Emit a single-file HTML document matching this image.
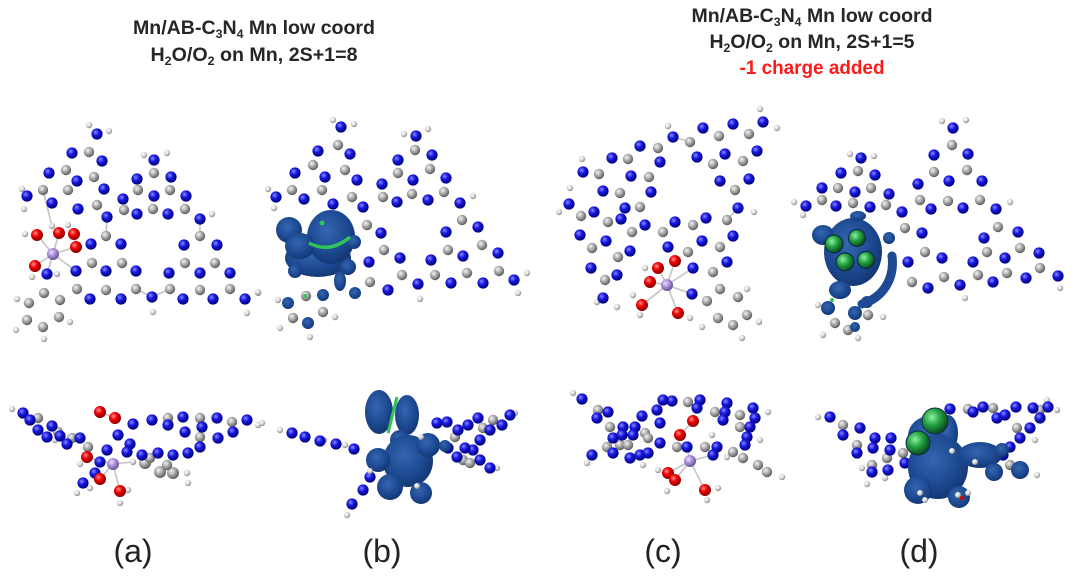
<!DOCTYPE html>
<html><head><meta charset="utf-8">
<style>
html,body{margin:0;padding:0;background:#fff;}
body{width:1080px;height:579px;overflow:hidden;}
svg{display:block;}
.n{fill:url(#gN)} .c{fill:url(#gC)} .h{fill:url(#gH)} .o{fill:url(#gO)} .m{fill:url(#gM)} .b{fill:url(#gB)}
.t{font-family:"Liberation Sans",Arial,sans-serif;}
</style></head><body>
<svg width="1080" height="579" viewBox="0 0 1080 579" xmlns="http://www.w3.org/2000/svg">
<defs>
<radialGradient id="gN" cx="38%" cy="35%" r="65%"><stop offset="0" stop-color="#8a8aff"/><stop offset="0.45" stop-color="#1818e0"/><stop offset="1" stop-color="#00007a"/></radialGradient>
<radialGradient id="gC" cx="38%" cy="35%" r="65%"><stop offset="0" stop-color="#f4f4f4"/><stop offset="0.5" stop-color="#a8a8a8"/><stop offset="1" stop-color="#5e5e5e"/></radialGradient>
<radialGradient id="gH" cx="38%" cy="35%" r="65%"><stop offset="0" stop-color="#ffffff"/><stop offset="0.5" stop-color="#dcdcdc"/><stop offset="1" stop-color="#8c8c8c"/></radialGradient>
<radialGradient id="gO" cx="38%" cy="35%" r="65%"><stop offset="0" stop-color="#ff9090"/><stop offset="0.45" stop-color="#ee0000"/><stop offset="1" stop-color="#880000"/></radialGradient>
<radialGradient id="gM" cx="38%" cy="35%" r="65%"><stop offset="0" stop-color="#eee0ff"/><stop offset="0.5" stop-color="#a88ed8"/><stop offset="1" stop-color="#6a5090"/></radialGradient>
<radialGradient id="gB" cx="42%" cy="38%" r="72%"><stop offset="0" stop-color="#3566b0"/><stop offset="0.55" stop-color="#1d4a92"/><stop offset="1" stop-color="#112f68"/></radialGradient>
<radialGradient id="gG" cx="38%" cy="35%" r="65%"><stop offset="0" stop-color="#8ff0a0"/><stop offset="0.5" stop-color="#22a040"/><stop offset="1" stop-color="#0c4a20"/></radialGradient>
</defs>

<!-- ===== Titles ===== -->
<g class="t" fill="#262626" font-weight="bold" font-size="19" text-anchor="middle">
<text x="254" y="34" textLength="242" lengthAdjust="spacingAndGlyphs">Mn/AB-C<tspan font-size="12" dy="4">3</tspan><tspan dy="-4">N</tspan><tspan font-size="12" dy="4">4</tspan><tspan dy="-4"> Mn low coord</tspan></text>
<text x="254" y="61" textLength="207" lengthAdjust="spacingAndGlyphs">H<tspan font-size="12" dy="4">2</tspan><tspan dy="-4">O/O</tspan><tspan font-size="12" dy="4">2</tspan><tspan dy="-4"> on Mn, 2S+1=8</tspan></text>
<text x="812" y="22" textLength="241" lengthAdjust="spacingAndGlyphs">Mn/AB-C<tspan font-size="12" dy="4">3</tspan><tspan dy="-4">N</tspan><tspan font-size="12" dy="4">4</tspan><tspan dy="-4"> Mn low coord</tspan></text>
<text x="812" y="48" textLength="205" lengthAdjust="spacingAndGlyphs">H<tspan font-size="12" dy="4">2</tspan><tspan dy="-4">O/O</tspan><tspan font-size="12" dy="4">2</tspan><tspan dy="-4"> on Mn, 2S+1=5</tspan></text>
<text x="812" y="74" fill="#ff1a1a" textLength="145" lengthAdjust="spacingAndGlyphs">-1 charge added</text>
</g>
<g class="t" fill="#222" font-size="32" text-anchor="middle">
<text x="133" y="562">(a)</text>
<text x="382" y="562">(b)</text>
<text x="663" y="562">(c)</text>
<text x="919" y="562">(d)</text>
</g>

<!-- ===== Panel (a) top ===== -->
<g stroke="#c4c4c4" stroke-width="1.6">
<line x1="53" y1="254" x2="37" y2="235"/><line x1="53" y1="254" x2="59" y2="233"/><line x1="53" y1="254" x2="76" y2="247"/><line x1="53" y1="254" x2="35" y2="266"/><line x1="53" y1="254" x2="47" y2="274"/><line x1="53" y1="254" x2="76" y2="271"/><line x1="74" y1="234" x2="76" y2="247"/>
<line x1="43" y1="190" x2="52" y2="226"/><line x1="107" y1="217" x2="106" y2="236"/><line x1="200" y1="219" x2="200" y2="236"/><line x1="152" y1="297" x2="170" y2="289"/><line x1="136" y1="289" x2="152" y2="297"/>
</g>
<g>
<circle class="h" cx="89" cy="125" r="3.2"/><circle class="h" cx="109" cy="131" r="3.2"/><circle class="h" cx="22" cy="189" r="3.2"/><circle class="h" cx="24" cy="209" r="3.2"/><circle class="h" cx="144" cy="155" r="3.2"/><circle class="h" cx="167" cy="153" r="3.2"/><circle class="h" cx="212" cy="214" r="3.2"/><circle class="h" cx="153" cy="312" r="3.2"/><circle class="h" cx="258" cy="293" r="3.2"/><circle class="h" cx="247" cy="313" r="3.2"/><circle class="h" cx="25" cy="234" r="3.2"/><circle class="h" cx="52" cy="226" r="3.2"/><circle class="h" cx="68" cy="225" r="3.2"/><circle class="h" cx="32" cy="277" r="3.2"/><circle class="h" cx="57" cy="274" r="3.2"/><circle class="h" cx="70" cy="322" r="3.2"/><circle class="h" cx="17" cy="299" r="3.2"/><circle class="h" cx="16" cy="330" r="3.2"/><circle class="h" cx="44" cy="339" r="3.2"/>
<circle class="c" cx="89" cy="152" r="5.2"/><circle class="c" cx="66" cy="170" r="5.2"/><circle class="c" cx="94" cy="177" r="5.2"/><circle class="c" cx="43" cy="190" r="5.2"/><circle class="c" cx="68" cy="190" r="5.2"/><circle class="c" cx="97" cy="205" r="5.2"/><circle class="c" cx="154" cy="173" r="5.2"/><circle class="c" cx="138" cy="190" r="5.2"/><circle class="c" cx="170" cy="190" r="5.2"/><circle class="c" cx="124" cy="210" r="5.2"/><circle class="c" cx="153" cy="209" r="5.2"/><circle class="c" cx="185" cy="209" r="5.2"/><circle class="c" cx="106" cy="236" r="5.2"/><circle class="c" cx="92" cy="263" r="5.2"/><circle class="c" cx="122" cy="263" r="5.2"/><circle class="c" cx="77" cy="289" r="5.2"/><circle class="c" cx="106" cy="290" r="5.2"/><circle class="c" cx="136" cy="289" r="5.2"/><circle class="c" cx="200" cy="236" r="5.2"/><circle class="c" cx="185" cy="263" r="5.2"/><circle class="c" cx="215" cy="263" r="5.2"/><circle class="c" cx="170" cy="289" r="5.2"/><circle class="c" cx="200" cy="290" r="5.2"/><circle class="c" cx="230" cy="289" r="5.2"/><circle class="c" cx="44" cy="293" r="5.2"/><circle class="c" cx="60" cy="300" r="5.2"/><circle class="c" cx="29" cy="303" r="5.2"/><circle class="c" cx="59" cy="317" r="5.2"/><circle class="c" cx="27" cy="320" r="5.2"/><circle class="c" cx="43" cy="327" r="5.2"/>
<circle class="n" cx="97" cy="134" r="5.6"/><circle class="n" cx="72" cy="153" r="5.6"/><circle class="n" cx="102" cy="161" r="5.6"/><circle class="n" cx="49" cy="173" r="5.6"/><circle class="n" cx="77" cy="181" r="5.6"/><circle class="n" cx="104" cy="189" r="5.6"/><circle class="n" cx="27" cy="196" r="5.6"/><circle class="n" cx="52" cy="203" r="5.6"/><circle class="n" cx="78" cy="209" r="5.6"/><circle class="n" cx="107" cy="217" r="5.6"/><circle class="n" cx="154" cy="160" r="5.6"/><circle class="n" cx="137" cy="179" r="5.6"/><circle class="n" cx="171" cy="177" r="5.6"/><circle class="n" cx="123" cy="199" r="5.6"/><circle class="n" cx="154" cy="196" r="5.6"/><circle class="n" cx="186" cy="196" r="5.6"/><circle class="n" cx="137" cy="214" r="5.6"/><circle class="n" cx="168" cy="214" r="5.6"/><circle class="n" cx="200" cy="219" r="5.6"/><circle class="n" cx="91" cy="244" r="5.6"/><circle class="n" cx="121" cy="244" r="5.6"/><circle class="n" cx="76" cy="271" r="5.6"/><circle class="n" cx="106" cy="271" r="5.6"/><circle class="n" cx="136" cy="271" r="5.6"/><circle class="n" cx="90" cy="299" r="5.6"/><circle class="n" cx="121" cy="299" r="5.6"/><circle class="n" cx="152" cy="297" r="5.6"/><circle class="n" cx="184" cy="245" r="5.6"/><circle class="n" cx="217" cy="245" r="5.6"/><circle class="n" cx="169" cy="273" r="5.6"/><circle class="n" cx="200" cy="273" r="5.6"/><circle class="n" cx="230" cy="273" r="5.6"/><circle class="n" cx="183" cy="299" r="5.6"/><circle class="n" cx="213" cy="299" r="5.6"/><circle class="n" cx="245" cy="299" r="5.6"/><circle class="n" cx="47" cy="274" r="5.6"/>
<circle class="o" cx="37" cy="235" r="6"/><circle class="o" cx="59" cy="233" r="6"/><circle class="o" cx="74" cy="234" r="6"/><circle class="o" cx="76" cy="247" r="6"/><circle class="o" cx="35" cy="266" r="6"/>
<circle class="m" cx="53" cy="254" r="6"/>
</g>

<!-- ===== Panel (b) top ===== -->
<g>
<circle class="h" cx="333" cy="120" r="3.2"/><circle class="h" cx="354" cy="124" r="3.2"/><circle class="h" cx="268" cy="189" r="3.2"/><circle class="h" cx="274" cy="208" r="3.2"/><circle class="h" cx="404" cy="134" r="3.2"/><circle class="h" cx="428" cy="129" r="3.2"/><circle class="h" cx="473" cy="196" r="3.2"/><circle class="h" cx="420" cy="299" r="3.2"/><circle class="h" cx="527" cy="273" r="3.2"/><circle class="h" cx="518" cy="293" r="3.2"/><circle class="h" cx="258" cy="292" r="3.2"/><circle class="h" cx="278" cy="300" r="3.2"/><circle class="h" cx="335" cy="317" r="3.2"/><circle class="h" cx="280" cy="328" r="3.2"/><circle class="h" cx="310" cy="337" r="3.2"/>
<circle class="c" cx="338" cy="145" r="5.2"/><circle class="c" cx="313" cy="165" r="5.2"/><circle class="c" cx="345" cy="170" r="5.2"/><circle class="c" cx="292" cy="190" r="5.2"/><circle class="c" cx="322" cy="190" r="5.2"/><circle class="c" cx="352" cy="197" r="5.2"/><circle class="c" cx="415" cy="150" r="5.2"/><circle class="c" cx="398" cy="173" r="5.2"/><circle class="c" cx="430" cy="169" r="5.2"/><circle class="c" cx="383" cy="197" r="5.2"/><circle class="c" cx="412" cy="194" r="5.2"/><circle class="c" cx="444" cy="192" r="5.2"/><circle class="c" cx="367" cy="225" r="5.2"/><circle class="c" cx="384" cy="250" r="5.2"/><circle class="c" cx="370" cy="282" r="5.2"/><circle class="c" cx="402" cy="275" r="5.2"/><circle class="c" cx="462" cy="220" r="5.2"/><circle class="c" cx="448" cy="250" r="5.2"/><circle class="c" cx="482" cy="245" r="5.2"/><circle class="c" cx="435" cy="275" r="5.2"/><circle class="c" cx="467" cy="273" r="5.2"/><circle class="c" cx="499" cy="271" r="5.2"/><circle class="c" cx="293" cy="318" r="5.2"/><circle class="c" cx="323" cy="312" r="5.2"/><circle class="c" cx="306" cy="296" r="5.2"/>
<circle class="n" cx="341" cy="127" r="5.6"/><circle class="n" cx="318" cy="151" r="5.6"/><circle class="n" cx="350" cy="154" r="5.6"/><circle class="n" cx="295" cy="173" r="5.6"/><circle class="n" cx="325" cy="177" r="5.6"/><circle class="n" cx="357" cy="180" r="5.6"/><circle class="n" cx="276" cy="197" r="5.6"/><circle class="n" cx="304" cy="199" r="5.6"/><circle class="n" cx="333" cy="204" r="5.6"/><circle class="n" cx="363" cy="207" r="5.6"/><circle class="n" cx="416" cy="136" r="5.6"/><circle class="n" cx="398" cy="160" r="5.6"/><circle class="n" cx="432" cy="155" r="5.6"/><circle class="n" cx="382" cy="184" r="5.6"/><circle class="n" cx="413" cy="180" r="5.6"/><circle class="n" cx="446" cy="178" r="5.6"/><circle class="n" cx="397" cy="202" r="5.6"/><circle class="n" cx="428" cy="200" r="5.6"/><circle class="n" cx="460" cy="203" r="5.6"/><circle class="n" cx="381" cy="233" r="5.6"/><circle class="n" cx="369" cy="262" r="5.6"/><circle class="n" cx="400" cy="258" r="5.6"/><circle class="n" cx="388" cy="290" r="5.6"/><circle class="n" cx="418" cy="284" r="5.6"/><circle class="n" cx="446" cy="232" r="5.6"/><circle class="n" cx="478" cy="227" r="5.6"/><circle class="n" cx="431" cy="260" r="5.6"/><circle class="n" cx="463" cy="256" r="5.6"/><circle class="n" cx="498" cy="253" r="5.6"/><circle class="n" cx="451" cy="283" r="5.6"/><circle class="n" cx="483" cy="283" r="5.6"/><circle class="n" cx="514" cy="280" r="5.6"/>
</g>
<g class="b">
<ellipse cx="318" cy="258" rx="33" ry="19"/>
<ellipse cx="331" cy="237" rx="24" ry="27"/>
<ellipse cx="289" cy="230" rx="13" ry="13"/>
<ellipse cx="300" cy="246" rx="15" ry="13"/>
<circle cx="354" cy="242" r="7"/>
<circle cx="348" cy="267" r="8"/>
<circle cx="295" cy="271" r="7"/>
<ellipse cx="340" cy="281" rx="6" ry="10"/>
<circle cx="355" cy="293" r="6"/>
<circle cx="288" cy="303" r="6"/>
<circle cx="323" cy="295" r="6"/>
<circle cx="308" cy="323" r="6"/>
</g>
<path d="M309,243 Q330,254 350,237" stroke="#2fc456" stroke-width="3.5" fill="none"/>
<circle cx="322" cy="223" r="2.5" fill="#2fc456"/>
<circle cx="305" cy="296" r="2" fill="#2fc456"/>

<!-- ===== Panel (c) top ===== -->
<g stroke="#c4c4c4" stroke-width="1.6">
<line x1="667" y1="285" x2="675" y2="261"/><line x1="667" y1="285" x2="658" y2="268"/><line x1="667" y1="285" x2="650" y2="282"/><line x1="667" y1="285" x2="642" y2="305"/><line x1="667" y1="285" x2="678" y2="313"/><line x1="667" y1="285" x2="692" y2="294"/><line x1="667" y1="285" x2="693" y2="268"/>
<line x1="738" y1="208" x2="727" y2="220"/><line x1="673" y1="137" x2="690" y2="142"/>
</g>
<g>
<circle class="h" cx="760" cy="109" r="3.2"/><circle class="h" cx="777" cy="128" r="3.2"/><circle class="h" cx="668" cy="126" r="3.2"/><circle class="h" cx="754" cy="212" r="3.2"/><circle class="h" cx="582" cy="159" r="3.2"/><circle class="h" cx="570" cy="188" r="3.2"/><circle class="h" cx="559" cy="212" r="3.2"/><circle class="h" cx="597" cy="302" r="3.2"/><circle class="h" cx="617" cy="307" r="3.2"/><circle class="h" cx="747" cy="289" r="3.2"/><circle class="h" cx="759" cy="322" r="3.2"/><circle class="h" cx="742" cy="338" r="3.2"/><circle class="h" cx="702" cy="327" r="3.2"/><circle class="h" cx="645" cy="268" r="3.2"/><circle class="h" cx="633" cy="295" r="3.2"/><circle class="h" cx="640" cy="315" r="3.2"/><circle class="h" cx="690" cy="318" r="3.2"/>
<circle class="c" cx="749" cy="134" r="5.2"/><circle class="c" cx="719" cy="136" r="5.2"/><circle class="c" cx="743" cy="161" r="5.2"/><circle class="c" cx="713" cy="164" r="5.2"/><circle class="c" cx="735" cy="190" r="5.2"/><circle class="c" cx="658" cy="148" r="5.2"/><circle class="c" cx="690" cy="142" r="5.2"/><circle class="c" cx="628" cy="159" r="5.2"/><circle class="c" cx="649" cy="177" r="5.2"/><circle class="c" cx="599" cy="174" r="5.2"/><circle class="c" cx="620" cy="193" r="5.2"/><circle class="c" cx="640" cy="207" r="5.2"/><circle class="c" cx="581" cy="216" r="5.2"/><circle class="c" cx="608" cy="222" r="5.2"/><circle class="c" cx="632" cy="232" r="5.2"/><circle class="c" cx="592" cy="248" r="5.2"/><circle class="c" cx="618" cy="257" r="5.2"/><circle class="c" cx="605" cy="280" r="5.2"/><circle class="c" cx="663" cy="232" r="5.2"/><circle class="c" cx="693" cy="225" r="5.2"/><circle class="c" cx="727" cy="220" r="5.2"/><circle class="c" cx="720" cy="247" r="5.2"/><circle class="c" cx="688" cy="252" r="5.2"/><circle class="c" cx="713" cy="272" r="5.2"/><circle class="c" cx="707" cy="301" r="5.2"/><circle class="c" cx="720" cy="289" r="5.2"/><circle class="c" cx="738" cy="297" r="5.2"/><circle class="c" cx="718" cy="318" r="5.2"/><circle class="c" cx="733" cy="325" r="5.2"/><circle class="c" cx="747" cy="315" r="5.2"/>
<circle class="n" cx="763" cy="122" r="5.6"/><circle class="n" cx="733" cy="124" r="5.6"/><circle class="n" cx="703" cy="128" r="5.6"/><circle class="n" cx="757" cy="151" r="5.6"/><circle class="n" cx="725" cy="154" r="5.6"/><circle class="n" cx="697" cy="157" r="5.6"/><circle class="n" cx="749" cy="179" r="5.6"/><circle class="n" cx="720" cy="181" r="5.6"/><circle class="n" cx="738" cy="208" r="5.6"/><circle class="n" cx="673" cy="137" r="5.6"/><circle class="n" cx="640" cy="146" r="5.6"/><circle class="n" cx="660" cy="162" r="5.6"/><circle class="n" cx="612" cy="158" r="5.6"/><circle class="n" cx="631" cy="176" r="5.6"/><circle class="n" cx="651" cy="192" r="5.6"/><circle class="n" cx="583" cy="172" r="5.6"/><circle class="n" cx="603" cy="191" r="5.6"/><circle class="n" cx="625" cy="208" r="5.6"/><circle class="n" cx="569" cy="204" r="5.6"/><circle class="n" cx="594" cy="212" r="5.6"/><circle class="n" cx="621" cy="219" r="5.6"/><circle class="n" cx="580" cy="235" r="5.6"/><circle class="n" cx="606" cy="241" r="5.6"/><circle class="n" cx="630" cy="251" r="5.6"/><circle class="n" cx="591" cy="268" r="5.6"/><circle class="n" cx="617" cy="275" r="5.6"/><circle class="n" cx="603" cy="298" r="5.6"/><circle class="n" cx="645" cy="225" r="5.6"/><circle class="n" cx="675" cy="222" r="5.6"/><circle class="n" cx="706" cy="218" r="5.6"/><circle class="n" cx="733" cy="236" r="5.6"/><circle class="n" cx="702" cy="241" r="5.6"/><circle class="n" cx="668" cy="247" r="5.6"/><circle class="n" cx="727" cy="262" r="5.6"/><circle class="n" cx="693" cy="268" r="5.6"/><circle class="n" cx="692" cy="294" r="5.6"/>
<circle class="o" cx="675" cy="261" r="6"/><circle class="o" cx="658" cy="268" r="6"/><circle class="o" cx="650" cy="282" r="6"/><circle class="o" cx="642" cy="305" r="6"/><circle class="o" cx="678" cy="313" r="6"/>
<circle class="m" cx="667" cy="285" r="6"/>
</g>

<!-- ===== Panel (d) top ===== -->
<g>
<circle class="h" cx="942" cy="121" r="3.2"/><circle class="h" cx="966" cy="120" r="3.2"/><circle class="h" cx="1010" cy="202" r="3.2"/><circle class="h" cx="1060" cy="288" r="3.2"/><circle class="h" cx="850" cy="154" r="3.2"/><circle class="h" cx="874" cy="156" r="3.2"/><circle class="h" cx="794" cy="202" r="3.2"/><circle class="h" cx="803" cy="215" r="3.2"/><circle class="h" cx="965" cy="298" r="3.2"/><circle class="h" cx="818" cy="305" r="3.2"/><circle class="h" cx="883" cy="317" r="3.2"/><circle class="h" cx="823" cy="335" r="3.2"/><circle class="h" cx="858" cy="338" r="3.2"/>
<circle class="c" cx="952" cy="145" r="5.2"/><circle class="c" cx="934" cy="172" r="5.2"/><circle class="c" cx="967" cy="170" r="5.2"/><circle class="c" cx="920" cy="200" r="5.2"/><circle class="c" cx="948" cy="201" r="5.2"/><circle class="c" cx="980" cy="200" r="5.2"/><circle class="c" cx="998" cy="227" r="5.2"/><circle class="c" cx="987" cy="252" r="5.2"/><circle class="c" cx="1020" cy="248" r="5.2"/><circle class="c" cx="978" cy="275" r="5.2"/><circle class="c" cx="1007" cy="273" r="5.2"/><circle class="c" cx="1040" cy="268" r="5.2"/><circle class="c" cx="858" cy="171" r="5.2"/><circle class="c" cx="838" cy="188" r="5.2"/><circle class="c" cx="871" cy="188" r="5.2"/><circle class="c" cx="822" cy="200" r="5.2"/><circle class="c" cx="853" cy="203" r="5.2"/><circle class="c" cx="886" cy="205" r="5.2"/><circle class="c" cx="905" cy="228" r="5.2"/><circle class="c" cx="925" cy="252" r="5.2"/><circle class="c" cx="912" cy="282" r="5.2"/><circle class="c" cx="944" cy="277" r="5.2"/><circle class="c" cx="868" cy="315" r="5.2"/><circle class="c" cx="835" cy="323" r="5.2"/><circle class="c" cx="848" cy="330" r="5.2"/>
<circle class="n" cx="953" cy="128" r="5.6"/><circle class="n" cx="934" cy="155" r="5.6"/><circle class="n" cx="968" cy="154" r="5.6"/><circle class="n" cx="918" cy="184" r="5.6"/><circle class="n" cx="949" cy="181" r="5.6"/><circle class="n" cx="982" cy="181" r="5.6"/><circle class="n" cx="931" cy="209" r="5.6"/><circle class="n" cx="963" cy="208" r="5.6"/><circle class="n" cx="996" cy="209" r="5.6"/><circle class="n" cx="984" cy="238" r="5.6"/><circle class="n" cx="1018" cy="232" r="5.6"/><circle class="n" cx="973" cy="262" r="5.6"/><circle class="n" cx="1005" cy="258" r="5.6"/><circle class="n" cx="1039" cy="253" r="5.6"/><circle class="n" cx="993" cy="282" r="5.6"/><circle class="n" cx="1026" cy="278" r="5.6"/><circle class="n" cx="1058" cy="276" r="5.6"/><circle class="n" cx="861" cy="158" r="5.6"/><circle class="n" cx="841" cy="173" r="5.6"/><circle class="n" cx="875" cy="175" r="5.6"/><circle class="n" cx="822" cy="188" r="5.6"/><circle class="n" cx="855" cy="192" r="5.6"/><circle class="n" cx="889" cy="194" r="5.6"/><circle class="n" cx="806" cy="206" r="5.6"/><circle class="n" cx="836" cy="206" r="5.6"/><circle class="n" cx="870" cy="207" r="5.6"/><circle class="n" cx="902" cy="212" r="5.6"/><circle class="n" cx="922" cy="233" r="5.6"/><circle class="n" cx="908" cy="262" r="5.6"/><circle class="n" cx="942" cy="258" r="5.6"/><circle class="n" cx="928" cy="288" r="5.6"/><circle class="n" cx="960" cy="285" r="5.6"/>
</g>
<g class="b">
<ellipse cx="853" cy="252" rx="29" ry="34"/>
<ellipse cx="823" cy="235" rx="11" ry="10"/>
<ellipse cx="858" cy="216" rx="8" ry="5"/>
<ellipse cx="840" cy="290" rx="11" ry="9"/>
<circle cx="889" cy="238" r="6"/>
<circle cx="828" cy="308" r="7"/>
<circle cx="855" cy="313" r="7"/>
<circle cx="855" cy="327" r="5"/>
<circle cx="867" cy="302" r="6"/>
</g>
<path d="M892,256 C895,280 882,298 862,304" stroke="#1d4a92" stroke-width="9" stroke-linecap="round" fill="none"/>
<g fill="url(#gG)" stroke="#0d2f4a" stroke-width="1.2">
<circle cx="834" cy="244" r="9"/>
<circle cx="857" cy="238" r="8.5"/>
<circle cx="845" cy="262" r="9"/>
<circle cx="866" cy="260" r="8.5"/>
</g>
<circle cx="832" cy="300" r="2" fill="#2fc456"/>

<!-- ===== Panel (a) bottom ===== -->
<g stroke="#c4c4c4" stroke-width="1.6">
<line x1="113" y1="464" x2="87" y2="457"/><line x1="113" y1="464" x2="100" y2="479"/><line x1="113" y1="464" x2="120" y2="491"/><line x1="113" y1="464" x2="133" y2="462"/><line x1="100" y1="412" x2="115" y2="418"/>
</g>
<g>
<circle class="h" cx="12" cy="409" r="3.2"/><circle class="h" cx="258" cy="425" r="3.2"/><circle class="h" cx="55" cy="440" r="3.2"/><circle class="h" cx="187" cy="473" r="3.2"/><circle class="h" cx="188" cy="483" r="3.2"/><circle class="h" cx="80" cy="464" r="3.2"/><circle class="h" cx="77" cy="493" r="3.2"/><circle class="h" cx="90" cy="488" r="3.2"/><circle class="h" cx="120" cy="503" r="3.2"/><circle class="h" cx="128" cy="490" r="3.2"/><circle class="h" cx="133" cy="462" r="3.2"/>
<circle class="c" cx="38" cy="418" r="5.2"/><circle class="c" cx="58" cy="432" r="5.2"/><circle class="c" cx="72" cy="438" r="5.2"/><circle class="c" cx="88" cy="447" r="5.2"/><circle class="c" cx="168" cy="418" r="5.2"/><circle class="c" cx="200" cy="418" r="5.2"/><circle class="c" cx="232" cy="422" r="5.2"/><circle class="c" cx="200" cy="437" r="5.2"/><circle class="c" cx="145" cy="463" r="6"/><circle class="c" cx="160" cy="472" r="6"/><circle class="c" cx="173" cy="473" r="6"/><circle class="c" cx="150" cy="458" r="5.2"/><circle class="c" cx="167" cy="465" r="5.2"/>
<circle class="n" cx="23" cy="413" r="5.6"/><circle class="n" cx="30" cy="420" r="5.6"/><circle class="n" cx="52" cy="426" r="5.6"/><circle class="n" cx="38" cy="430" r="5.6"/><circle class="n" cx="47" cy="437" r="5.6"/><circle class="n" cx="60" cy="436" r="5.6"/><circle class="n" cx="67" cy="444" r="5.6"/><circle class="n" cx="80" cy="438" r="5.6"/><circle class="n" cx="133" cy="424" r="5.6"/><circle class="n" cx="152" cy="420" r="5.6"/><circle class="n" cx="168" cy="425" r="5.6"/><circle class="n" cx="183" cy="417" r="5.6"/><circle class="n" cx="202" cy="427" r="5.6"/><circle class="n" cx="217" cy="418" r="5.6"/><circle class="n" cx="247" cy="420" r="5.6"/><circle class="n" cx="185" cy="432" r="5.6"/><circle class="n" cx="218" cy="438" r="5.6"/><circle class="n" cx="233" cy="432" r="5.6"/><circle class="n" cx="200" cy="447" r="5.6"/><circle class="n" cx="188" cy="453" r="5.6"/><circle class="n" cx="173" cy="455" r="5.6"/><circle class="n" cx="158" cy="453" r="5.6"/><circle class="n" cx="142" cy="455" r="5.6"/><circle class="n" cx="118" cy="435" r="5.6"/><circle class="n" cx="130" cy="444" r="5.6"/><circle class="n" cx="127" cy="452" r="5.6"/><circle class="n" cx="107" cy="450" r="5.6"/><circle class="n" cx="100" cy="462" r="5.6"/><circle class="n" cx="95" cy="473" r="5.6"/><circle class="n" cx="83" cy="483" r="5.6"/>
<circle class="o" cx="100" cy="412" r="6"/><circle class="o" cx="115" cy="418" r="6"/><circle class="o" cx="87" cy="457" r="6"/><circle class="o" cx="100" cy="479" r="6"/><circle class="o" cx="120" cy="491" r="6"/>
<circle class="m" cx="113" cy="464" r="6"/>
</g>

<!-- ===== Panel (b) bottom ===== -->
<g>
<circle class="h" cx="262" cy="423" r="3.2"/><circle class="h" cx="280" cy="430" r="3.2"/><circle class="h" cx="324" cy="440" r="3.2"/><circle class="h" cx="345" cy="445" r="3.2"/><circle class="h" cx="347" cy="515" r="3.2"/><circle class="h" cx="497" cy="468" r="3.2"/><circle class="h" cx="515" cy="413" r="3.2"/>
<circle class="c" cx="493" cy="420" r="5.2"/><circle class="c" cx="483" cy="428" r="5.2"/><circle class="c" cx="463" cy="460" r="5.2"/><circle class="c" cx="470" cy="463" r="5.2"/><circle class="c" cx="455" cy="437" r="5.2"/>
<circle class="n" cx="292" cy="433" r="5.6"/><circle class="n" cx="305" cy="437" r="5.6"/><circle class="n" cx="320" cy="441" r="5.6"/><circle class="n" cx="336" cy="444" r="5.6"/><circle class="n" cx="354" cy="449" r="5.6"/><circle class="n" cx="370" cy="477" r="5.6"/><circle class="n" cx="363" cy="490" r="5.6"/><circle class="n" cx="352" cy="504" r="5.6"/><circle class="n" cx="437" cy="423" r="5.6"/><circle class="n" cx="447" cy="422" r="5.6"/><circle class="n" cx="458" cy="430" r="5.6"/><circle class="n" cx="468" cy="425" r="5.6"/><circle class="n" cx="478" cy="418" r="5.6"/><circle class="n" cx="490" cy="430" r="5.6"/><circle class="n" cx="502" cy="425" r="5.6"/><circle class="n" cx="510" cy="415" r="5.6"/><circle class="n" cx="480" cy="440" r="5.6"/><circle class="n" cx="473" cy="450" r="5.6"/><circle class="n" cx="465" cy="448" r="5.6"/><circle class="n" cx="448" cy="448" r="5.6"/><circle class="n" cx="457" cy="457" r="5.6"/><circle class="n" cx="480" cy="460" r="5.6"/><circle class="n" cx="490" cy="468" r="5.6"/>
</g>
<g class="b">
<ellipse cx="379" cy="412" rx="14" ry="22"/>
<ellipse cx="407" cy="415" rx="12" ry="20"/>
<ellipse cx="400" cy="440" rx="10" ry="10"/>
<ellipse cx="408" cy="461" rx="25" ry="26"/>
<circle cx="390" cy="487" r="13"/>
<circle cx="421" cy="493" r="11"/>
<circle cx="378" cy="460" r="12"/>
<circle cx="428" cy="445" r="12"/>
<circle cx="445" cy="446" r="6"/>
</g>
<path d="M397,397 L388,433" stroke="#2fc456" stroke-width="3" fill="none"/>
<circle class="h" cx="417" cy="486" r="3"/><circle class="h" cx="370" cy="471" r="3"/><circle class="h" cx="421" cy="437" r="3"/>

<!-- ===== Panel (c) bottom ===== -->
<g stroke="#c4c4c4" stroke-width="1.6">
<line x1="690" y1="461" x2="668" y2="473"/><line x1="690" y1="461" x2="675" y2="480"/><line x1="690" y1="461" x2="705" y2="490"/><line x1="690" y1="461" x2="687" y2="447"/><line x1="690" y1="461" x2="713" y2="455"/><line x1="693" y1="421" x2="680" y2="435"/>
</g>
<g>
<circle class="h" cx="573" cy="393" r="3.2"/><circle class="h" cx="587" cy="463" r="3.2"/><circle class="h" cx="643" cy="465" r="3.2"/><circle class="h" cx="768" cy="412" r="3.2"/><circle class="h" cx="760" cy="440" r="3.2"/><circle class="h" cx="782" cy="477" r="3.2"/><circle class="h" cx="712" cy="435" r="3.2"/><circle class="h" cx="727" cy="457" r="3.2"/><circle class="h" cx="658" cy="470" r="3.2"/><circle class="h" cx="667" cy="491" r="3.2"/><circle class="h" cx="707" cy="500" r="3.2"/><circle class="h" cx="718" cy="488" r="3.2"/>
<circle class="c" cx="598" cy="410" r="5.2"/><circle class="c" cx="610" cy="427" r="5.2"/><circle class="c" cx="645" cy="433" r="5.2"/><circle class="c" cx="620" cy="445" r="5.2"/><circle class="c" cx="607" cy="447" r="5.2"/><circle class="c" cx="648" cy="438" r="5.2"/><circle class="c" cx="688" cy="402" r="5.2"/><circle class="c" cx="715" cy="412" r="5.2"/><circle class="c" cx="740" cy="415" r="5.2"/><circle class="c" cx="740" cy="427" r="5.2"/><circle class="c" cx="733" cy="452" r="5.2"/><circle class="c" cx="743" cy="458" r="5.2"/><circle class="c" cx="758" cy="465" r="5.2"/><circle class="c" cx="767" cy="472" r="5.2"/><circle class="c" cx="677" cy="447" r="5.2"/><circle class="c" cx="705" cy="447" r="5.2"/><circle class="c" cx="628" cy="445" r="5.2"/>
<circle class="n" cx="582" cy="399" r="5.6"/><circle class="n" cx="608" cy="412" r="5.6"/><circle class="n" cx="597" cy="418" r="5.6"/><circle class="n" cx="623" cy="427" r="5.6"/><circle class="n" cx="635" cy="427" r="5.6"/><circle class="n" cx="642" cy="416" r="5.6"/><circle class="n" cx="657" cy="410" r="5.6"/><circle class="n" cx="672" cy="401" r="5.6"/><circle class="n" cx="663" cy="400" r="5.6"/><circle class="n" cx="660" cy="423" r="5.6"/><circle class="n" cx="613" cy="438" r="5.6"/><circle class="n" cx="622" cy="435" r="5.6"/><circle class="n" cx="633" cy="435" r="5.6"/><circle class="n" cx="613" cy="453" r="5.6"/><circle class="n" cx="630" cy="458" r="5.6"/><circle class="n" cx="640" cy="455" r="5.6"/><circle class="n" cx="648" cy="453" r="5.6"/><circle class="n" cx="660" cy="443" r="5.6"/><circle class="n" cx="592" cy="455" r="5.6"/><circle class="n" cx="700" cy="400" r="5.6"/><circle class="n" cx="697" cy="408" r="5.6"/><circle class="n" cx="727" cy="403" r="5.6"/><circle class="n" cx="725" cy="412" r="5.6"/><circle class="n" cx="723" cy="420" r="5.6"/><circle class="n" cx="753" cy="408" r="5.6"/><circle class="n" cx="755" cy="418" r="5.6"/><circle class="n" cx="750" cy="427" r="5.6"/><circle class="n" cx="747" cy="437" r="5.6"/><circle class="n" cx="745" cy="445" r="5.6"/><circle class="n" cx="687" cy="447" r="5.6"/><circle class="n" cx="717" cy="447" r="5.6"/><circle class="n" cx="713" cy="455" r="5.6"/>
<circle class="o" cx="693" cy="421" r="6"/><circle class="o" cx="680" cy="435" r="6"/><circle class="o" cx="668" cy="473" r="6"/><circle class="o" cx="675" cy="480" r="6"/><circle class="o" cx="705" cy="490" r="6"/>
<circle class="m" cx="690" cy="461" r="6"/>
</g>

<!-- ===== Panel (d) bottom ===== -->
<g>
<circle class="h" cx="818" cy="417" r="3.2"/><circle class="h" cx="862" cy="468" r="3.2"/><circle class="h" cx="867" cy="484" r="3.2"/><circle class="h" cx="885" cy="478" r="3.2"/><circle class="h" cx="1057" cy="410" r="3.2"/><circle class="h" cx="1047" cy="400" r="3.2"/><circle class="h" cx="1035" cy="440" r="3.2"/><circle class="h" cx="1037" cy="475" r="3.2"/>
<circle class="c" cx="843" cy="425" r="5.2"/><circle class="c" cx="857" cy="445" r="5.2"/><circle class="c" cx="887" cy="458" r="5.2"/><circle class="c" cx="872" cy="465" r="5.2"/><circle class="c" cx="903" cy="453" r="5.2"/><circle class="c" cx="968" cy="409" r="5.2"/><circle class="c" cx="993" cy="408" r="5.2"/><circle class="c" cx="1017" cy="428" r="5.2"/><circle class="c" cx="1020" cy="473" r="5.2"/><circle class="c" cx="1010" cy="465" r="5.2"/><circle class="c" cx="1040" cy="410" r="5.2"/>
<circle class="n" cx="830" cy="417" r="5.6"/><circle class="n" cx="860" cy="428" r="5.6"/><circle class="n" cx="843" cy="435" r="5.6"/><circle class="n" cx="875" cy="438" r="5.6"/><circle class="n" cx="891" cy="438" r="5.6"/><circle class="n" cx="857" cy="453" r="5.6"/><circle class="n" cx="873" cy="448" r="5.6"/><circle class="n" cx="890" cy="450" r="5.6"/><circle class="n" cx="905" cy="463" r="5.6"/><circle class="n" cx="872" cy="472" r="5.6"/><circle class="n" cx="888" cy="470" r="5.6"/><circle class="n" cx="950" cy="409" r="5.6"/><circle class="n" cx="973" cy="412" r="5.6"/><circle class="n" cx="983" cy="407" r="5.6"/><circle class="n" cx="997" cy="418" r="5.6"/><circle class="n" cx="1005" cy="415" r="5.6"/><circle class="n" cx="1016" cy="407" r="5.6"/><circle class="n" cx="1033" cy="408" r="5.6"/><circle class="n" cx="1048" cy="407" r="5.6"/><circle class="n" cx="1040" cy="418" r="5.6"/><circle class="n" cx="1030" cy="428" r="5.6"/><circle class="n" cx="1020" cy="438" r="5.6"/><circle class="n" cx="1010" cy="447" r="5.6"/><circle class="n" cx="1003" cy="455" r="5.6"/>
</g>
<g class="b">
<ellipse cx="930" cy="436" rx="22" ry="20"/>
<ellipse cx="948" cy="433" rx="10" ry="18"/>
<ellipse cx="938" cy="467" rx="30" ry="32"/>
<circle cx="918" cy="490" r="14"/>
<circle cx="959" cy="497" r="11"/>
<ellipse cx="980" cy="455" rx="22" ry="13"/>
<circle cx="994" cy="472" r="9"/>
<circle cx="1020" cy="470" r="9"/>
<circle cx="1002" cy="450" r="7"/>
</g>
<g fill="url(#gG)" stroke="#0d2f4a" stroke-width="1">
<circle cx="935" cy="421" r="13"/>
<circle cx="918" cy="443" r="12"/>
</g>
<circle class="h" cx="920" cy="493" r="3"/><circle class="h" cx="925" cy="500" r="3"/><circle class="h" cx="958" cy="495" r="3"/><circle class="h" cx="968" cy="493" r="3"/><circle class="h" cx="952" cy="451" r="3"/><circle class="h" cx="975" cy="462" r="3"/>
<circle cx="962" cy="498" r="2" fill="#d00"/>
</svg>
</body></html>
